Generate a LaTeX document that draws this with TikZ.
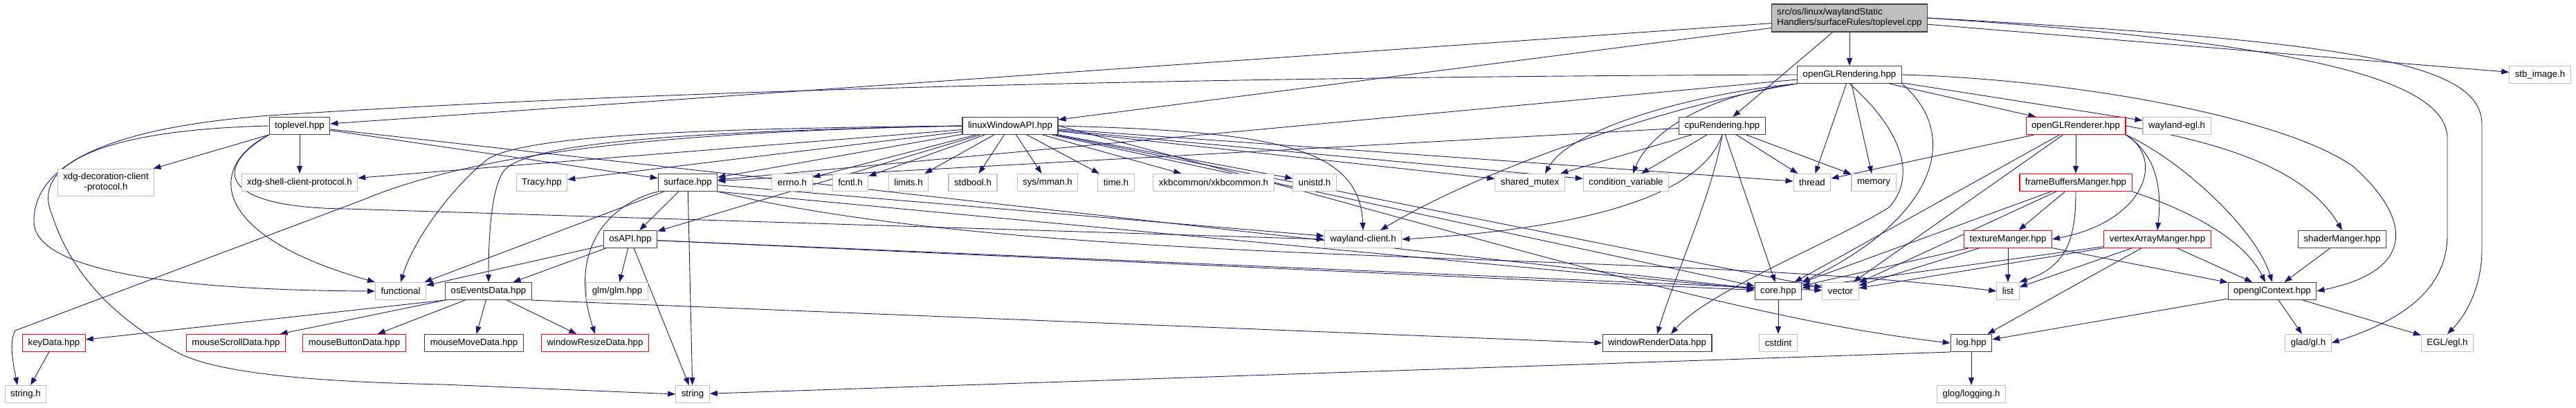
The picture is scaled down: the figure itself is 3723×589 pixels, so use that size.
\documentclass[tikz,border=0pt]{standalone}
\usepackage{fontspec}
\newfontfamily\dxfont{Liberation Sans}
\usetikzlibrary{arrows.meta,backgrounds}
\definecolor{edgeblue}{HTML}{191970}
\definecolor{sysgray}{HTML}{BFBFBF}
\definecolor{hdrdark}{HTML}{404040}

\begin{document}
\begin{tikzpicture}[
  x=1pt, y=-1pt,
  hdr/.style={rectangle, draw=hdrdark, fill=white, line width=1.1pt,
              minimum height=25pt, inner xsep=8pt, inner ysep=3pt,
              font=\dxfont\fontsize{13.3}{15}\selectfont},
  trunc/.style={hdr, draw=red},
  sysinc/.style={hdr, draw=sysgray},
  rootfile/.style={hdr, fill=sysgray, align=left, minimum height=40pt},
  dep/.style={-{Triangle[length=11pt,width=8pt]}, edgeblue, line width=0.9pt}
]
  \useasboundingbox (0,0) rectangle (3723,589);

  % row 0
  \node[rootfile] (root) at (2673,26) {src/os/linux/waylandStatic\\Handlers/surfaceRules/toplevel.cpp};

  % row 1
  \node[hdr]    (toplevel)   at (433,182)  {toplevel.hpp};
  \node[hdr]    (linuxapi)   at (1460,182) {linuxWindowAPI.hpp};
  \node[hdr]    (cpurend)    at (2489,182) {cpuRendering.hpp};
  \node[hdr]    (glrend)     at (2673,108) {openGLRendering.hpp};
  \node[trunc]  (glrenderer) at (3000,182) {openGLRenderer.hpp};
  \node[sysinc] (wlegl)      at (3146,182) {wayland-egl.h};
  \node[sysinc] (stbimg)     at (3671,108) {stb\_image.h};

  % row 2
  \node[sysinc, align=center, minimum height=39pt] (xdgdeco) at (153,264) {xdg-decoration-client\\-protocol.h};
  \node[sysinc] (xdgshell)  at (433,264)  {xdg-shell-client-protocol.h};
  \node[sysinc] (tracy)     at (783,264)  {Tracy.hpp};
  \node[hdr]    (surface)   at (994,264)  {surface.hpp};
  \node[sysinc] (errnoh)    at (1145,264) {errno.h};
  \node[sysinc] (fcntlh)    at (1229,264) {fcntl.h};
  \node[sysinc] (limitsh)   at (1313,264) {limits.h};
  \node[sysinc] (stdboolh)  at (1406,264) {stdbool.h};
  \node[sysinc] (mmanh)     at (1514,264) {sys/mman.h};
  \node[sysinc] (timeh)     at (1613,264) {time.h};
  \node[sysinc] (xkb)       at (1754,264) {xkbcommon/xkbcommon.h};
  \node[sysinc] (unistdh)   at (1900,264) {unistd.h};
  \node[sysinc] (sharedmtx) at (2211,264) {shared\_mutex};
  \node[sysinc] (condvar)   at (2350,264) {condition\_variable};
  \node[sysinc] (thread)    at (2619,264) {thread};
  \node[sysinc] (memory)    at (2708,264) {memory};
  \node[trunc]  (fbmgr)     at (3000,264) {frameBuffersManger.hpp};

  % row 3
  \node[hdr]    (osapi)     at (911,346)  {osAPI.hpp};
  \node[sysinc] (wlclient)  at (1970,346) {wayland-client.h};
  \node[trunc]  (texmgr)    at (2902,346) {textureManger.hpp};
  \node[trunc]  (vamgr)     at (3118,346) {vertexArrayManger.hpp};
  \node[hdr]    (shadermgr) at (3385,346) {shaderManger.hpp};

  % row 4
  \node[sysinc] (functional)   at (579,421)  {functional};
  \node[hdr]    (oseventsdata) at (706,421)  {osEventsData.hpp};
  \node[sysinc] (glm)          at (892,421)  {glm/glm.hpp};
  \node[hdr]    (core)         at (2570,421) {core.hpp};
  \node[sysinc] (vector)       at (2660,421) {vector};
  \node[sysinc] (list)         at (2902,421) {list};
  \node[hdr]    (glcontext)    at (3284,421) {openglContext.hpp};

  % row 5
  \node[trunc]  (keydata) at (78,496)   {keyData.hpp};
  \node[trunc]  (mscroll) at (341,496)  {mouseScrollData.hpp};
  \node[trunc]  (mbutton) at (512,496)  {mouseButtonData.hpp};
  \node[hdr]    (mmove)   at (685,496)  {mouseMoveData.hpp};
  \node[trunc]  (wresize) at (860,496)  {windowResizeData.hpp};
  \node[hdr]    (wrender) at (2395,496) {windowRenderData.hpp};
  \node[sysinc] (cstdint) at (2570,496) {cstdint};
  \node[hdr]    (log)     at (2849,496) {log.hpp};
  \node[sysinc] (gladgl)  at (3336,496) {glad/gl.h};
  \node[sysinc] (eglh)    at (3537,496) {EGL/egl.h};

  % row 6
  \node[sysinc] (stringh) at (37,570)   {string.h};
  \node[sysinc] (string)  at (1001,570) {string};
  \node[sysinc] (glog)    at (2849,570) {glog/logging.h};

  \begin{scope}[on background layer]
    % toplevel.cpp
    \foreach \dst in {toplevel,linuxapi,cpurend,glrend,stbimg}
      \draw[dep] (root) -- (\dst);
    \draw[dep] (root.east) .. controls (3300,60) and (3537,110) .. (3537,200)
      -- (3537,340) .. controls (3537,430) and (3450,470) .. (gladgl.east);
    \draw[dep] (root.east) .. controls (3400,60) and (3587,90) .. (3587,180)
      -- (3587,360) .. controls (3587,420) and (3560,460) .. (eglh.north);

    % toplevel.hpp
    \foreach \dst in {xdgdeco,xdgshell,surface,core}
      \draw[dep] (toplevel) -- (\dst);
    \draw[dep] (toplevel.south west) .. controls (300,240) and (300,340) .. (functional.north west);
    \draw[dep] (toplevel.south west) .. controls (310,240) and (310,300) .. (500,302) -- (wlclient.west);
    \draw[dep] (toplevel.west) .. controls (140,188) and (45,240) .. (75,310)
      .. controls (110,420) and (200,480) .. (261,512)
      .. controls (330,545) and (500,553) .. (640,556) -- (string.west);

    % linuxWindowAPI.hpp
    \foreach \dst in {xdgshell,tracy,surface,errnoh,fcntlh,limitsh,stdboolh,mmanh,timeh,
                      xkb,unistdh,sharedmtx,condvar,thread,osapi,core,vector}
      \draw[dep] (linuxapi) -- (\dst);
    \draw[dep] (linuxapi.east) .. controls (1850,190) and (1965,215) .. (wlclient.north);
    \draw[dep] (linuxapi.west) .. controls (1000,186) and (760,196) .. (705,230)
      .. controls (660,265) and (600,340) .. (functional.north);
    \draw[dep] (linuxapi.west) .. controls (1000,190) and (770,205) .. (730,245)
      .. controls (712,265) and (706,330) .. (oseventsdata.north);
    \draw[dep] (linuxapi.west) .. controls (1000,190) and (700,215) .. (522,290)
      -- (22,478) .. controls (12,495) and (20,530) .. ([xshift=-12pt]stringh.north);
    \draw[dep] (linuxapi.east) .. controls (2100,330) and (2500,460) .. (log.west);

    % cpuRendering.hpp
    \foreach \dst in {surface,sharedmtx,condvar,thread,memory,core}
      \draw[dep] (cpurend) -- (\dst);
    \draw[dep] (cpurend.south) .. controls (2460,280) and (2300,330) .. (wlclient.east);
    \draw[dep] (cpurend.south) .. controls (2475,280) and (2420,400) .. (wrender.north);

    % openGLRendering.hpp
    \foreach \dst in {glrenderer,wlegl,thread,memory,surface}
      \draw[dep] (glrend) -- (\dst);
    \draw[dep] (glrend.south west) .. controls (2450,135) and (2270,185) .. ([xshift=22pt]sharedmtx.north);
    \draw[dep] (glrend.south west) .. controls (2450,140) and (2380,200) .. ([xshift=10pt]condvar.north);
    \draw[dep] (glrend.south west) .. controls (2420,150) and (2150,240) .. ([xshift=25pt]wlclient.north);
    \draw[dep] (glrend.west) .. controls (1500,112) and (800,140) .. (390,167)
      .. controls (150,185) and (49,240) .. (49,320)
      .. controls (49,400) and (300,420) .. (functional.west);
    \draw[dep] (glrend.south) .. controls (2740,180) and (2775,250) .. (2730,300)
      .. controls (2650,350) and (2470,420) .. ([xshift=20pt]wrender.north);
    \draw[dep] (glrend.south east) .. controls (2840,200) and (2790,320) .. (core.north east);
    \draw[dep] (glrend.east) .. controls (3000,115) and (3300,170) .. (3400,240)
      .. controls (3480,310) and (3500,390) .. (glcontext.east);

    % openGLRenderer.hpp
    \foreach \dst in {fbmgr,thread,core,vector}
      \draw[dep] (glrenderer) -- (\dst);
    \draw[dep] (glrenderer.south east) .. controls (3130,230) and (3100,320) .. (texmgr.east);
    \draw[dep] (glrenderer.south east) .. controls (3110,220) and (3126,260) .. (vamgr.north);
    \draw[dep] (glrenderer.east) .. controls (3200,205) and (3330,240) .. (shadermgr.north);
    \draw[dep] (glrenderer.south east) .. controls (3150,230) and (3260,330) .. (glcontext.north);

    % frameBuffersManger.hpp
    \foreach \dst in {texmgr,vector,core}
      \draw[dep] (fbmgr) -- (\dst);
    \draw[dep] (fbmgr.south) .. controls (3000,340) and (2990,385) .. (list.north east);
    \draw[dep] (fbmgr.south east) .. controls (3150,300) and (3240,340) .. ([xshift=-10pt]glcontext.north);

    % textureManger.hpp, vertexArrayManger.hpp, shaderManger.hpp
    \foreach \dst in {list,core,vector,glcontext}
      \draw[dep] (texmgr) -- (\dst);
    \foreach \dst in {list,core,vector,log,glcontext}
      \draw[dep] (vamgr) -- (\dst);
    \draw[dep] (shadermgr) -- (glcontext);

    % openglContext.hpp, core.hpp, log.hpp
    \foreach \dst in {gladgl,eglh,log}
      \draw[dep] (glcontext) -- (\dst);
    \draw[dep] (core) -- (cstdint);
    \draw[dep] (log) -- (glog);
    \draw[dep] (log.south west) -- (string);

    % surface.hpp
    \foreach \dst in {osapi,string,functional,wlclient}
      \draw[dep] (surface) -- (\dst);
    \draw[dep] (surface.south east) -- (core);
    \draw[dep] (surface.south east) .. controls (1500,390) and (2400,360) .. (list.west);
    \draw[dep] (surface.south west) .. controls (880,295) and (820,360) .. (wresize.north);

    % osAPI.hpp
    \foreach \dst in {oseventsdata,glm,string,functional,core,vector}
      \draw[dep] (osapi) -- (\dst);

    % osEventsData.hpp
    \draw[dep] (oseventsdata.south west) -- (keydata);
    \draw[dep] (oseventsdata.south west) -- (mscroll);
    \foreach \dst in {mbutton,mmove,wresize}
      \draw[dep] (oseventsdata) -- (\dst);
    \draw[dep] (oseventsdata.south east) -- (wrender.west);

    \draw[dep] (keydata) -- (stringh);
  \end{scope}
\end{tikzpicture}
\end{document}
